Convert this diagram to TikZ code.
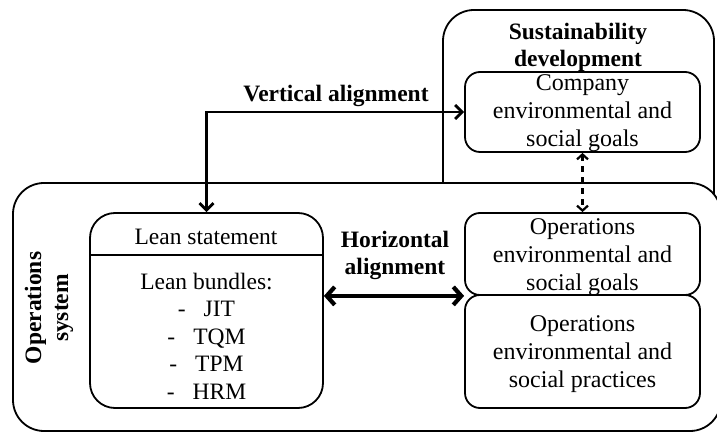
\documentclass[tikz,border=0pt]{standalone}
\usepackage{fontspec}
\setmainfont{Liberation Serif}
\usetikzlibrary{arrows.meta}
\begin{document}
\begin{tikzpicture}[x=1pt,y=-1pt,
  frame/.style={draw, line width=1.8pt, fill=white},
  txt/.style={align=center, font=\fontsize{24}{28}\selectfont, inner sep=0pt},
  lbl/.style={align=center, font=\bfseries\fontsize{23.5}{27}\selectfont, inner sep=0pt},
  vconn/.style={line width=2.8pt, {Straight Barb[length=7pt,width=14pt]}-{Straight Barb[length=7pt,width=14pt]}},
  hconn/.style={line width=4.2pt, {Straight Barb[length=8pt,width=18pt]}-{Straight Barb[length=8pt,width=18pt]}},
  dconn/.style={line width=2.2pt, dash pattern=on 6pt off 5pt, {Straight Barb[length=5pt,width=11pt]}-{Straight Barb[length=5pt,width=11pt]}}
]
\useasboundingbox (0,0) rectangle (717,435);
\begin{scope}
  \clip (0,0) rectangle (717,435);
  % Sustainability development frame (continues behind the operations frame)
  \draw[frame, rounded corners=31pt] (443,10) rectangle (714,420);
  % Operations system frame
  \draw[frame, rounded corners=31pt] (13,183) rectangle (721,431);
\end{scope}

\node[lbl] (sustlbl) at (578,47) {Sustainability\\development};

\node[frame, rounded corners=15pt, minimum width=235pt, minimum height=80pt, inner sep=0pt] (company) at (582.5,112) {};
\node[txt] (companytxt) at (582.5,113) {Company\\environmental and\\social goals};

\node[lbl, rotate=90] (opslbl) at (49,308) {Operations\\system};

% Lean box
\node[frame, rounded corners=25pt, minimum width=233pt, minimum height=195pt, inner sep=0pt] (lean) at (206.5,310.5) {};
\draw[line width=1.3pt] (lean.west |- 0,255) -- (lean.east |- 0,255);
\node[txt, font=\fontsize{23.5}{27.5}\selectfont] (leanstmt) at (206,237) {Lean statement};
\node[txt, font=\fontsize{23.5}{27.5}\selectfont] (bundles) at (206.5,336) {Lean bundles:\\-\hspace{18pt}JIT\\-\hspace{18pt}TQM\\-\hspace{18pt}TPM\\-\hspace{18pt}HRM};

% Operations goals and practices
\node[frame, rounded corners=15pt, minimum width=235pt, minimum height=82pt, inner sep=0pt] (opgoals) at (582.5,254) {};
\node[txt] (opgoalstxt) at (582.5,257) {Operations\\environmental and\\social goals};
\node[frame, rounded corners=15pt, minimum width=235pt, minimum height=113pt, inner sep=0pt] (oppract) at (582.5,351.5) {};
\node[txt] (oppracttxt) at (582.5,354) {Operations\\environmental and\\social practices};

% Connectors
\draw[vconn] (company.west) -| (lean.north);
\node[lbl, anchor=south] (vlbl) at (336,107) {Vertical alignment};

\draw[dconn] (company.south) -- (opgoals.north);

\coordinate (hl) at (lean.east |- opgoals.south);
\coordinate (hr) at (opgoals.south west);
\draw[hconn] (hl) -- (hr);
\node[lbl] (hlbl) at (395,255) {Horizontal\\alignment};
\end{tikzpicture}
\end{document}
